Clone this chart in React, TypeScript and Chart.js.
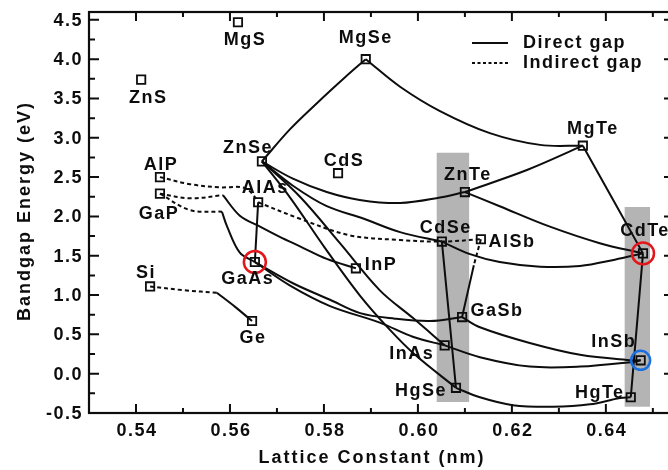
import React, { useEffect, useRef } from 'react';
import { Chart, registerables } from 'chart.js';

Chart.register(...registerables);

// ---------------- DATA ----------------
const compounds = ['MgS', 'MgSe', 'ZnS', 'ZnSe', 'CdS', 'AlAs', 'GaAs', 'InP', 'AlP', 'GaP', 'Si', 'Ge', 'ZnTe', 'MgTe', 'CdSe', 'AlSb', 'CdTe', 'GaSb', 'InAs', 'HgSe', 'InSb', 'HgTe'];
const latticeConstant = [0.5617, 0.5889, 0.5411, 0.5668, 0.583, 0.566, 0.5653, 0.5868, 0.5451, 0.5451, 0.543, 0.5647, 0.61, 0.6351, 0.6051, 0.6134, 0.6479, 0.6094, 0.6057, 0.6081, 0.6474, 0.6453];
const bandgapEnergy = [4.47, 4.0, 3.74, 2.7, 2.55, 2.18, 1.42, 1.34, 2.5, 2.29, 1.11, 0.67, 2.31, 2.9, 1.68, 1.71, 1.53, 0.72, 0.36, -0.18, 0.17, -0.3];

const redCircled = ['GaAs', 'CdTe'];
const blueCircled = ['InSb'];

// direct-gap (solid) alloy curves
const znseMgseX = [0.5668, 0.5728, 0.5785, 0.5845, 0.5889];
const znseMgseY = [2.7, 3.11, 3.44, 3.77, 4.0];
const mgseMgteX = [0.5889, 0.5962, 0.6047, 0.6153, 0.626, 0.6351];
const mgseMgteY = [4.0, 3.65, 3.34, 3.06, 2.91, 2.9];
const znteMgteX = [0.61, 0.6232, 0.6351];
const znteMgteY = [2.31, 2.59, 2.9];
const mgteCdteX = [0.6351, 0.6479];
const mgteCdteY = [2.9, 1.53];
const znseZnteX = [0.5668, 0.5734, 0.5806, 0.5876, 0.5962, 0.6047, 0.61];
const znseZnteY = [2.7, 2.48, 2.31, 2.21, 2.17, 2.24, 2.31];
const znseCdseX = [0.5668, 0.5734, 0.5806, 0.5885, 0.5962, 0.6051];
const znseCdseY = [2.7, 2.39, 2.13, 1.97, 1.8, 1.68];
const cdseCdteX = [0.6051, 0.6111, 0.6174, 0.626, 0.6345, 0.6419, 0.6479];
const cdseCdteY = [1.68, 1.52, 1.42, 1.36, 1.37, 1.45, 1.53];
const znteCdteX = [0.61, 0.6174, 0.6281, 0.6387, 0.6479];
const znteCdteY = [2.31, 2.13, 1.87, 1.66, 1.53];
const gainpX = [0.5585, 0.5621, 0.5664, 0.5706, 0.5749, 0.5806, 0.5868];
const gainpY = [2.27, 2.01, 1.87, 1.74, 1.62, 1.46, 1.34];
const gaasPX = [0.5583, 0.5594, 0.5621, 0.5653];
const gaasPY = [2.06, 1.87, 1.54, 1.42];
const sigeDirX = [0.5572, 0.5611, 0.5647];
const sigeDirY = [1.03, 0.85, 0.67];
const alasGaasX = [0.566, 0.5653];
const alasGaasY = [2.18, 1.42];
const alsbGasbX = [0.6119, 0.6094];
const alsbGasbY = [1.38, 0.72];
const gaasGasbX = [0.5653, 0.5734, 0.5813, 0.5877, 0.5951, 0.6026, 0.6094];
const gaasGasbY = [1.42, 1.15, 0.94, 0.77, 0.7, 0.67, 0.72];
const gaasInasX = [0.5653, 0.5728, 0.5813, 0.5919, 0.5989, 0.6057];
const gaasInasY = [1.42, 1.12, 0.86, 0.65, 0.47, 0.36];
const znseHgseX = [0.5668, 0.5728, 0.5802, 0.5877, 0.594, 0.5994, 0.6081];
const znseHgseY = [2.7, 2.24, 1.6, 0.99, 0.56, 0.24, -0.18];
const znseInasX = [0.5668, 0.5749, 0.5834, 0.5919, 0.5989, 0.6057];
const znseInasY = [2.7, 2.25, 1.66, 1.06, 0.71, 0.36];
const inasInsbX = [0.6057, 0.6132, 0.6238, 0.6345, 0.6457, 0.6474];
const inasInsbY = [0.36, 0.21, 0.09, 0.09, 0.15, 0.17];
const gasbInsbX = [0.6094, 0.6132, 0.6238, 0.6345, 0.6457, 0.6474];
const gasbInsbY = [0.72, 0.59, 0.39, 0.24, 0.17, 0.17];
const hgseHgteX = [0.6081, 0.6132, 0.6202, 0.6287, 0.6366, 0.643, 0.6453];
const hgseHgteY = [-0.18, -0.3, -0.4, -0.42, -0.39, -0.31, -0.3];
const cdseHgseX = [0.6051, 0.6081];
const cdseHgseY = [1.68, -0.18];
const cdteHgteX = [0.6479, 0.6453];
const cdteHgteY = [1.53, -0.3];

// indirect-gap (dashed) alloy curves
const alpAlasX = [0.5451, 0.5515, 0.5579, 0.5632, 0.566];
const alpAlasY = [2.5, 2.41, 2.37, 2.36, 2.2];
const gapInpIndX = [0.5451, 0.5515, 0.5585];
const gapInpIndY = [2.29, 2.23, 2.27];
const gapGaasIndX = [0.5451, 0.5515, 0.5583];
const gapGaasIndY = [2.29, 2.08, 2.06];
const sigeIndX = [0.543, 0.5504, 0.5572];
const sigeIndY = [1.11, 1.06, 1.03];
const alasAlsbX = [0.566, 0.5749, 0.5855, 0.5962, 0.6051, 0.6134];
const alasAlsbY = [2.18, 1.97, 1.76, 1.7, 1.68, 1.71];
const alsbGasbIndX = [0.6134, 0.6119];
const alsbGasbIndY = [1.71, 1.38];

const directCurves = [
  [znseMgseX, znseMgseY], [mgseMgteX, mgseMgteY], [znteMgteX, znteMgteY], [mgteCdteX, mgteCdteY],
  [znseZnteX, znseZnteY], [znseCdseX, znseCdseY], [cdseCdteX, cdseCdteY], [znteCdteX, znteCdteY],
  [gainpX, gainpY], [gaasPX, gaasPY], [sigeDirX, sigeDirY], [alasGaasX, alasGaasY],
  [alsbGasbX, alsbGasbY], [gaasGasbX, gaasGasbY], [gaasInasX, gaasInasY], [znseHgseX, znseHgseY],
  [znseInasX, znseInasY], [inasInsbX, inasInsbY], [gasbInsbX, gasbInsbY], [hgseHgteX, hgseHgteY],
  [cdseHgseX, cdseHgseY], [cdteHgteX, cdteHgteY],
];
const indirectCurves = [
  [alpAlasX, alpAlasY], [gapInpIndX, gapInpIndY], [gapGaasIndX, gapGaasIndY],
  [sigeIndX, sigeIndY], [alasAlsbX, alasAlsbY], [alsbGasbIndX, alsbGasbIndY],
];

// shaded lattice-matched families
const bandXStart = [0.604, 0.644];
const bandXEnd = [0.6109, 0.6494];
const bandYLow = [-0.36, -0.42];
const bandYHigh = [2.81, 2.12];

// axes
const xMin = 0.53;
const xMax = 0.6545;
const yMin = -0.5;
const yMax = 4.6;
const xMajorTicks = [0.54, 0.56, 0.58, 0.6, 0.62, 0.64];
const xTickLabels = ['0.54', '0.56', '0.58', '0.60', '0.62', '0.64'];
const xMinorTicks = [0.55, 0.57, 0.59, 0.61, 0.63, 0.65];
const yMajorTicks = [-0.5, 0, 0.5, 1, 1.5, 2, 2.5, 3, 3.5, 4, 4.5];
const yTickLabels = ['-0.5', '0.0', '0.5', '1.0', '1.5', '2.0', '2.5', '3.0', '3.5', '4.0', '4.5'];
const yMinorTicks = [-0.25, 0.25, 0.75, 1.25, 1.75, 2.25, 2.75, 3.25, 3.75, 4.25];
const xTitle = 'Lattice Constant (nm)';
const yTitle = 'Bandgap Energy (eV)';
const legendLabels = ['Direct gap', 'Indirect gap'];

// ---------------- LAYOUT / STYLE ----------------
const FONT = 'bold 18px "Liberation Sans", Arial, sans-serif';
const LABEL_OFFSET: Record<string, [number, number]> = {
  MgS: [7, 18], MgSe: [0, -21], ZnS: [7, 18], ZnSe: [-14, -13], CdS: [6, -12], AlAs: [7, -14],
  GaAs: [-7, 17], InP: [25, -3], AlP: [1, -12], GaP: [-1, 20], Si: [-4, -13], Ge: [1, 17],
  ZnTe: [3, -17], MgTe: [10, -17], CdSe: [4, -14], AlSb: [31, 3], CdTe: [2, -22], GaSb: [35, -6],
  InAs: [-33, 9], HgSe: [-35, 3], InSb: [-27, -18], HgTe: [-31, -4],
};

const figurePlugin = {
  id: 'figureDecor',
  beforeDatasetsDraw(chart: any) {
    const { ctx } = chart;
    const xs = chart.scales.x;
    const ys = chart.scales.y;
    ctx.save();
    ctx.fillStyle = '#b4b4b4';
    for (let i = 0; i < bandXStart.length; i++) {
      const l = xs.getPixelForValue(bandXStart[i]);
      const r = xs.getPixelForValue(bandXEnd[i]);
      const t = ys.getPixelForValue(bandYHigh[i]);
      const b = ys.getPixelForValue(bandYLow[i]);
      ctx.fillRect(l, t, r - l, b - t);
    }
    ctx.restore();
  },
  afterDatasetsDraw(chart: any) {
    const { ctx, chartArea: ca } = chart;
    const xs = chart.scales.x;
    const ys = chart.scales.y;
    ctx.save();
    // highlight circles
    ctx.lineWidth = 2.5;
    compounds.forEach((name, i) => {
      const px = xs.getPixelForValue(latticeConstant[i]);
      const py = ys.getPixelForValue(bandgapEnergy[i]);
      if (redCircled.includes(name)) {
        ctx.strokeStyle = '#e3161b';
        ctx.beginPath();
        ctx.arc(px, py, 11, 0, Math.PI * 2);
        ctx.stroke();
      }
      if (blueCircled.includes(name)) {
        ctx.strokeStyle = '#1a6fe0';
        ctx.beginPath();
        ctx.arc(px, py, 9.5, 0, Math.PI * 2);
        ctx.stroke();
      }
    });
    // compound labels
    ctx.font = FONT;
    (ctx as any).letterSpacing = '1.5px';
    ctx.fillStyle = '#0d0d0d';
    ctx.textAlign = 'center';
    ctx.textBaseline = 'middle';
    compounds.forEach((name, i) => {
      const px = xs.getPixelForValue(latticeConstant[i]);
      const py = ys.getPixelForValue(bandgapEnergy[i]);
      const off = LABEL_OFFSET[name] || [0, -15];
      ctx.fillText(name, px + off[0], py + off[1]);
    });
    // frame
    ctx.strokeStyle = '#0d0d0d';
    ctx.lineWidth = 2.2;
    ctx.strokeRect(ca.left, ca.top, ca.right - ca.left, ca.bottom - ca.top);
    // ticks
    ctx.lineWidth = 2;
    ctx.beginPath();
    const xt = (v: number, len: number) => {
      const p = xs.getPixelForValue(v);
      ctx.moveTo(p, ca.bottom); ctx.lineTo(p, ca.bottom - len);
      ctx.moveTo(p, ca.top); ctx.lineTo(p, ca.top + len);
    };
    const yt = (v: number, len: number) => {
      const p = ys.getPixelForValue(v);
      ctx.moveTo(ca.left, p); ctx.lineTo(ca.left + len, p);
      ctx.moveTo(ca.right, p); ctx.lineTo(ca.right - len, p);
    };
    xMajorTicks.forEach((v) => xt(v, 9));
    xMinorTicks.forEach((v) => xt(v, 5));
    yMajorTicks.forEach((v) => yt(v, 10));
    yMinorTicks.forEach((v) => yt(v, 6));
    ctx.stroke();
    // tick labels
    ctx.fillStyle = '#0d0d0d';
    ctx.textBaseline = 'middle';
    ctx.textAlign = 'center';
    xMajorTicks.forEach((v, i) => {
      ctx.fillText(xTickLabels[i], xs.getPixelForValue(v) + 1, ca.bottom + 18);
    });
    ctx.textAlign = 'right';
    yMajorTicks.forEach((v, i) => {
      ctx.fillText(yTickLabels[i], ca.left - 6, ys.getPixelForValue(v) + 1);
    });
    // axis titles
    (ctx as any).letterSpacing = '2px';
    ctx.textAlign = 'center';
    ctx.fillText(xTitle, 372, 458);
    ctx.save();
    ctx.translate(25, 211);
    ctx.rotate(-Math.PI / 2);
    ctx.fillText(yTitle, 0, 0);
    ctx.restore();
    // legend
    (ctx as any).letterSpacing = '1.5px';
    ctx.textAlign = 'left';
    ctx.lineWidth = 2;
    ctx.beginPath();
    ctx.moveTo(472, 43); ctx.lineTo(508, 43);
    ctx.stroke();
    ctx.setLineDash([3, 2.5]);
    ctx.beginPath();
    ctx.moveTo(472, 63); ctx.lineTo(508, 63);
    ctx.stroke();
    ctx.setLineDash([]);
    ctx.fillText(legendLabels[0], 523, 43);
    ctx.fillText(legendLabels[1], 523, 63);
    ctx.restore();
  },
};

export default function App() {
  const canvasRef = useRef<HTMLCanvasElement | null>(null);

  useEffect(() => {
    document.body.style.margin = '0';
    const canvas = canvasRef.current;
    if (!canvas) return;

    const lineDatasets: any[] = [];
    directCurves.forEach(([cx, cy]) => {
      lineDatasets.push({
        data: cx.map((x, i) => ({ x, y: cy[i] })),
        showLine: true,
        borderColor: '#0d0d0d',
        borderWidth: 2,
        pointRadius: 0,
        tension: 0.35,
        fill: false,
      });
    });
    indirectCurves.forEach(([cx, cy]) => {
      lineDatasets.push({
        data: cx.map((x, i) => ({ x, y: cy[i] })),
        showLine: true,
        borderColor: '#0d0d0d',
        borderWidth: 2,
        borderDash: [4, 3],
        pointRadius: 0,
        tension: 0.35,
        fill: false,
      });
    });
    lineDatasets.push({
      data: compounds.map((_, i) => ({ x: latticeConstant[i], y: bandgapEnergy[i] })),
      showLine: false,
      pointStyle: 'rect',
      pointRadius: 5.9,
      pointBorderWidth: 1.8,
      pointBorderColor: '#0d0d0d',
      pointBackgroundColor: 'rgba(255,255,255,0)',
      borderColor: '#0d0d0d',
      backgroundColor: 'rgba(255,255,255,0)',
    });

    const chart = new Chart(canvas, {
      type: 'scatter',
      data: { datasets: lineDatasets },
      options: {
        responsive: false,
        devicePixelRatio: 1,
        animation: false,
        layout: { padding: { left: 89, right: 16, top: 12, bottom: 57 } },
        plugins: { legend: { display: false }, tooltip: { enabled: false } },
        scales: {
          x: { type: 'linear', min: xMin, max: xMax, display: false },
          y: { type: 'linear', min: yMin, max: yMax, display: false },
        },
      },
      plugins: [figurePlugin],
    } as any);

    return () => chart.destroy();
  }, []);

  return (
    <div style={{ width: 668, height: 470, overflow: 'hidden', position: 'relative', background: '#fff' }}>
      <canvas ref={canvasRef} width={690} height={470} style={{ width: 690, height: 470, display: 'block' }} />
    </div>
  );
}
